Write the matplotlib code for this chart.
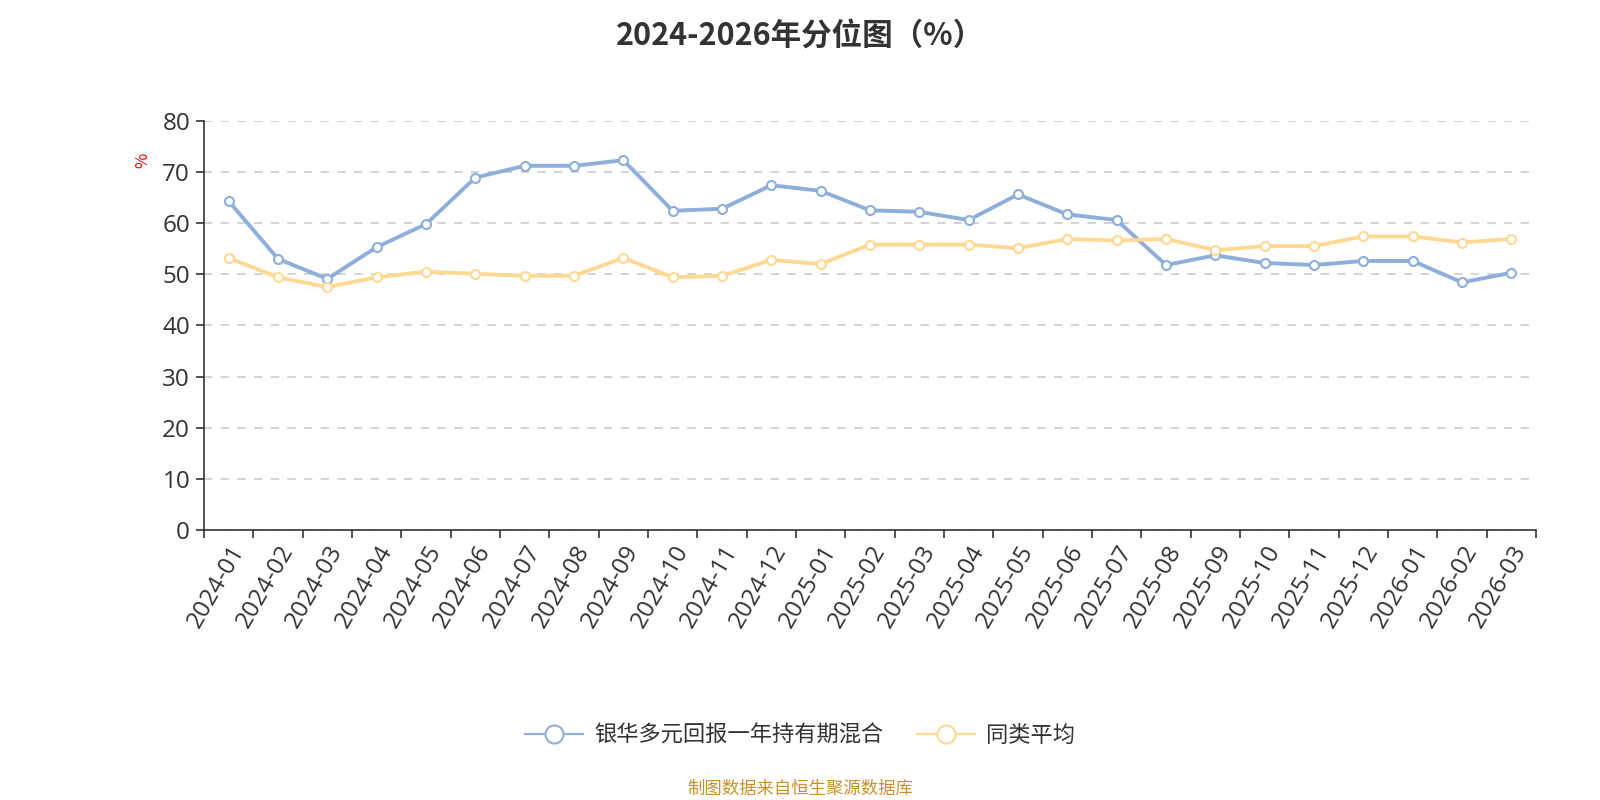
import matplotlib.pyplot as plt
from matplotlib.ticker import FixedLocator, NullFormatter

plt.rcParams['font.family'] = ['Noto Sans CJK SC', 'DejaVu Sans']

months = ['2024-01', '2024-02', '2024-03', '2024-04', '2024-05', '2024-06',
          '2024-07', '2024-08', '2024-09', '2024-10', '2024-11', '2024-12',
          '2025-01', '2025-02', '2025-03', '2025-04', '2025-05', '2025-06',
          '2025-07', '2025-08', '2025-09', '2025-10', '2025-11', '2025-12',
          '2026-01', '2026-02', '2026-03']
fund = [64.3, 53.0, 49.1, 55.3, 59.8, 68.9, 71.2, 71.2, 72.3, 62.4, 62.8, 67.4,
        66.3, 62.5, 62.2, 60.6, 65.6, 61.7, 60.6, 51.8, 53.7, 52.2, 51.8, 52.6,
        52.6, 48.4, 50.3]
peer = [53.2, 49.4, 47.5, 49.4, 50.5, 50.1, 49.7, 49.7, 53.2, 49.4, 49.7, 52.8,
        52.0, 55.8, 55.8, 55.8, 55.1, 56.9, 56.6, 56.9, 54.7, 55.5, 55.5, 57.4,
        57.4, 56.2, 56.9]
fund_name = '银华多元回报一年持有期混合'
peer_name = '同类平均'

blue = '#8eaedc'
yellow = '#ffd994'
dark = '#333333'
tick_font = ['Open Sans', 'DejaVu Sans']

fig = plt.figure(figsize=(16, 8), dpi=100)
ax = fig.add_axes([0.1275, 0.3375, 0.8325, 0.5115])

x = list(range(len(months)))
ax.plot(x, fund, color=blue, lw=2.8, marker='o', ms=6.5, mfc='white',
        mec=blue, mew=1.5, label=fund_name, zorder=3)
ax.plot(x, peer, color=yellow, lw=2.8, marker='o', ms=6.5, mfc='white',
        mec=yellow, mew=1.5, label=peer_name, zorder=3)

ax.set_xlim(-0.5, len(months) - 0.5)
ax.set_ylim(0, 80)
ax.set_yticks(range(0, 81, 10))
ax.set_yticklabels([str(v) for v in range(0, 81, 10)], family=tick_font,
                   fontsize=17.5, color=dark)
ax.tick_params(axis='y', color=dark, length=6, width=1.2, pad=4)
ax.grid(axis='y', color='#cccccc', ls=(0, (5, 5)), lw=1.2)
ax.set_axisbelow(True)

# category boundaries get tick marks, labels sit at centres
ax.xaxis.set_major_locator(FixedLocator([i - 0.5 for i in range(len(months) + 1)]))
ax.xaxis.set_major_formatter(NullFormatter())
ax.xaxis.set_minor_locator(FixedLocator(x))
ax.set_xticklabels(months, minor=True, rotation=60, ha='right',
                   rotation_mode='anchor', fontsize=17.5, color=dark,
                   family=tick_font)
ax.tick_params(axis='x', which='major', length=6, width=1.2, color=dark)
ax.tick_params(axis='x', which='minor', length=0, pad=8)

for side in ['top', 'right']:
    ax.spines[side].set_visible(False)
for side in ['left', 'bottom']:
    ax.spines[side].set_color(dark)
    ax.spines[side].set_linewidth(1.2)

fig.text(0.089, 0.80, '%', color='red', fontsize=12, rotation=90,
         ha='center', va='center')

fig.suptitle('2024-2026年分位图（%）', y=0.975, fontsize=22,
             fontweight='bold', color=dark)

leg = fig.legend(loc='center', bbox_to_anchor=(0.5, 0.081), ncol=2,
                 frameon=False, fontsize=16, markerscale=2.0,
                 handlelength=2.6, columnspacing=1.5, handletextpad=0.5)
for h in leg.get_lines():
    h.set_linewidth(1.6)
for t in leg.get_texts():
    t.set_color(dark)

fig.text(0.5, 0.014, '制图数据来自恒生聚源数据库', color='#c8902a',
         fontsize=12.5, ha='center', va='center')

fig.savefig('out.png', dpi=100)
